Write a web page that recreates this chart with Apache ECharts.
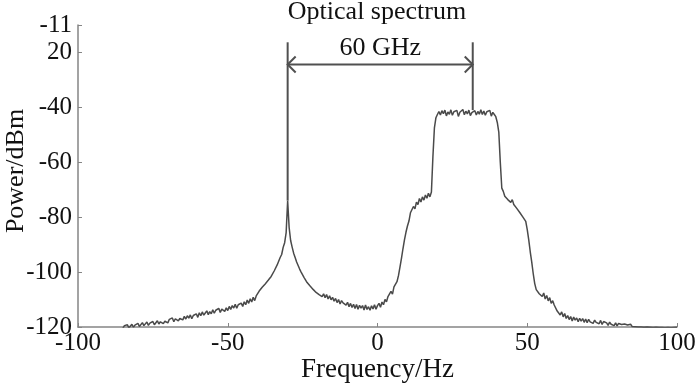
<!DOCTYPE html>
<html><head><meta charset="utf-8">
<script src="https://cdn.jsdelivr.net/npm/echarts@6/dist/echarts.min.js"></script>
<style>html,body{margin:0;padding:0;background:#fff}#c{width:700px;height:389px}</style>
</head><body><div id="c"></div>
<script>
// sampling grid of the measured trace (Hz)
const freqStart = -85;
const freqStep = 0.5;
// power (dBm), one row = 5 Hz (10 samples)
const power = [
/* -85 */ -120.4, -119.5, -120.0, -119.2, -120.3, -119.6, -119.0, -120.1, -119.3, -119.9,
/* -80 */ -118.7, -119.8, -119.1, -118.4, -119.5, -118.9, -118.2, -119.4, -118.6, -119.1,
/* -75 */ -118.0, -119.2, -118.5, -117.7, -118.9, -118.1, -117.5, -118.8, -117.9, -117.3,
/* -70 */ -118.5, -117.2, -117.9, -116.7, -118.1, -117.0, -116.5, -117.8, -116.9, -116.3,
/* -65 */ -117.4, -116.1, -117.1, -115.9, -116.8, -115.6, -117.0, -115.8, -116.2, -115.2,
/* -60 */ -116.5, -114.8, -115.9, -114.5, -115.7, -114.9, -114.1, -115.5, -114.4, -115.2,
/* -55 */ -113.7, -115.0, -113.9, -114.6, -113.2, -114.7, -113.5, -112.9, -114.3, -113.0,
/* -50 */ -114.0, -112.5, -113.6, -112.2, -113.1, -111.7, -113.2, -111.9, -112.4, -111.3,
/* -45 */ -112.5, -110.8, -111.9, -110.2, -111.4, -109.7, -110.9, -109.2, -110.4, -108.7,
/* -40 */ -108.6, -106.9, -107.6, -105.5, -106.2, -104.3, -104.8, -103.0, -103.5, -101.6,
/* -35 */ -101.5, -99.6, -99.5, -97.4, -96.9, -94.7, -93.6, -91.0, -89.3, -85.6,
/* -30 */ -74.0, -83.8, -88.5, -90.9, -93.1, -94.7, -96.3, -97.6, -98.9, -100.0,
/* -25 */ -101.0, -102.0, -102.5, -103.8, -103.9, -105.1, -105.0, -106.3, -106.0, -107.4,
/* -20 */ -107.0, -108.2, -107.5, -108.9, -107.9, -109.3, -108.2, -109.8, -108.6, -110.1,
/* -15 */ -109.2, -110.6, -109.6, -111.1, -110.0, -111.6, -110.4, -111.2, -110.8, -112.0,
/* -10 */ -111.0, -112.6, -111.4, -112.9, -111.7, -113.3, -111.8, -113.5, -112.1, -113.1,
/*  -5 */ -112.2, -113.8, -112.0, -113.6, -112.6, -113.9, -112.3, -113.4, -111.9, -113.5,
/*   0 */ -112.2, -111.4, -112.8, -110.9, -111.9, -110.0, -110.8, -108.9, -109.6, -107.0,
/*   5 */ -108.0, -105.4, -106.0, -103.5, -101.3, -98.2, -95.0, -91.5, -88.3, -85.5,
/*  10 */ -83.2, -81.4, -78.4, -78.6, -76.1, -77.0, -74.5, -75.4, -73.2, -74.5,
/*  15 */ -72.6, -73.8, -71.9, -73.1, -71.3, -72.6, -70.8, -58.0, -47.5, -43.8,
/*  20 */ -42.6, -41.5, -42.8, -41.2, -42.3, -41.0, -43.1, -41.7, -42.5, -40.9,
/*  25 */ -42.9, -41.6, -42.2, -41.1, -43.3, -41.8, -42.0, -40.8, -42.7, -41.4,
/*  30 */ -42.4, -41.0, -43.0, -41.9, -42.1, -41.2, -42.8, -41.5, -42.5, -40.9,
/*  35 */ -42.6, -41.3, -42.9, -41.6, -42.3, -41.1, -43.2, -41.8, -42.6, -43.4,
/*  40 */ -45.5, -49.0, -60.0, -69.4, -70.6, -72.4, -71.8, -73.6, -72.9, -74.6,
/*  45 */ -73.6, -75.4, -74.9, -76.8, -76.5, -78.3, -78.1, -79.9, -79.6, -81.5,
/*  50 */ -84.5, -88.3, -92.6, -96.4, -100.6, -104.2, -106.4, -106.0, -107.9, -107.3,
/*  55 */ -108.9, -107.6, -109.8, -108.5, -110.5, -109.3, -111.4, -110.4, -112.0, -112.6,
/*  60 */ -114.2, -113.6, -115.6, -114.5, -116.3, -115.1, -116.9, -115.8, -117.3, -116.2,
/*  65 */ -117.8, -116.4, -117.5, -116.7, -118.1, -116.8, -117.9, -116.9, -118.3, -117.1,
/*  70 */ -118.4, -117.2, -118.1, -117.4, -118.7, -117.5, -118.3, -117.9, -118.8, -117.6,
/*  75 */ -119.1, -118.0, -118.7, -118.5, -119.4, -118.2, -119.0, -118.8, -119.5, -118.5,
/*  80 */ -119.6, -118.7, -119.3, -119.1, -119.8, -118.9, -119.5, -119.3, -119.9, -119.0,
/*  85 */ -119.8, -119.3, -119.9, -119.4, -120.0, -119.5, -120.0, -119.6, -120.1, -119.6,
/*  90 */ -120.0, -119.7, -120.1, -119.7, -120.2, -119.8, -120.1, -119.8, -120.2, -119.9,
/*  95 */ -120.2, -119.9, -120.3, -119.9, -120.2, -120.0, -120.3, -120.0, -120.2, -120.0,
/* 100 */ -120.1
];

const xTickStep = 50;
const yTickValues = [-120, -100, -80, -60, -40, -20, -10];
const yTickLabels = ['-120', '-100', '-80', '-60', '-40', '20', '-11'];

// 60 GHz spacing annotation
const markerFreqs = [-30, 31.8];
const markerTop = -16.3;
const markerBottoms = [-74, -41];
const arrowLevel = -24.4;
const spanLabel = '60 GHz';

const titleText = 'Optical spectrum';
const xName = 'Frequency/Hz';
const yName = 'Power/dBm';

const FONT = '"Liberation Serif", "Times New Roman", serif';
const FS = 25;
const seriesData = power.map((p, i) => [freqStart + i * freqStep, p]);

const chart = echarts.init(document.getElementById('c'), null, {renderer: 'canvas'});
const axisGray = '#858585';
chart.setOption({
  animation: false,
  backgroundColor: '#fff',
  grid: {left: 78, right: 23, top: 25, bottom: 62, containLabel: false, outerBoundsMode: 'none'},
  graphic: [{
    type: 'text', x: 377, y: 12,
    style: {text: titleText, textAlign: 'center', textVerticalAlign: 'middle',
            font: '26px ' + FONT, fill: '#111'}
  }],
  xAxis: {
    type: 'value', min: -100, max: 100, interval: xTickStep,
    name: xName, nameLocation: 'middle', nameGap: 29, nameMoveOverlap: false,
    nameTextStyle: {fontFamily: FONT, fontSize: 27, color: '#111'},
    axisLine: {show: true, onZero: false, lineStyle: {color: axisGray, width: 1.5}},
    axisTick: {show: true, inside: true, length: 4, lineStyle: {color: axisGray}},
    axisLabel: {fontFamily: FONT, fontSize: FS, color: '#111', margin: 4},
    splitLine: {show: false}
  },
  yAxis: {
    type: 'value', min: -120, max: -10,
    name: yName, nameLocation: 'middle', nameGap: 49, nameMoveOverlap: false,
    nameTextStyle: {fontFamily: FONT, fontSize: 26, color: '#111', padding: [0, 0, 0, 10]},
    axisLine: {show: true, onZero: false, lineStyle: {color: axisGray, width: 1.5}},
    axisTick: {show: true, inside: true, length: 4, customValues: yTickValues, lineStyle: {color: axisGray}},
    axisLabel: {fontFamily: FONT, fontSize: FS, color: '#111', margin: 6,
                customValues: yTickValues,
                formatter: v => { const k = yTickValues.indexOf(v); return k < 0 ? '' : yTickLabels[k]; }},
    splitLine: {show: false}
  },
  series: [{
    type: 'line', data: seriesData, symbol: 'none', smooth: false,
    lineStyle: {color: '#4a4a4a', width: 1.5}, clip: true, z: 3
  }, {
    type: 'custom', coordinateSystem: 'cartesian2d', silent: true, z: 5, clip: false,
    data: [[markerFreqs[0], arrowLevel]],
    renderItem: (params, api) => {
      const l = api.coord([markerFreqs[0], arrowLevel]);
      const r = api.coord([markerFreqs[1], arrowLevel]);
      const lt = api.coord([markerFreqs[0], markerTop]);
      const lb = api.coord([markerFreqs[0], markerBottoms[0]]);
      const rt = api.coord([markerFreqs[1], markerTop]);
      const rb = api.coord([markerFreqs[1], markerBottoms[1]]);
      const st = {stroke: '#505050', lineWidth: 2, fill: null};
      const a = 8;
      return {type: 'group', children: [
        {type: 'line', shape: {x1: lt[0], y1: lt[1], x2: lb[0], y2: lb[1]}, style: st},
        {type: 'line', shape: {x1: rt[0], y1: rt[1], x2: rb[0], y2: rb[1]}, style: st},
        {type: 'line', shape: {x1: l[0], y1: l[1], x2: r[0], y2: r[1]}, style: st},
        {type: 'polyline', shape: {points: [[l[0] + a, l[1] - a], [l[0], l[1]], [l[0] + a, l[1] + a]]}, style: st},
        {type: 'polyline', shape: {points: [[r[0] - a, r[1] - a], [r[0], r[1]], [r[0] - a, r[1] + a]]}, style: st},
        {type: 'text', style: {text: spanLabel, x: (l[0] + r[0]) / 2, y: l[1] - 16,
          textAlign: 'center', textVerticalAlign: 'middle', font: '26px ' + FONT, fill: '#111'}}
      ]};
    }
  }]
});
</script>
</body></html>
